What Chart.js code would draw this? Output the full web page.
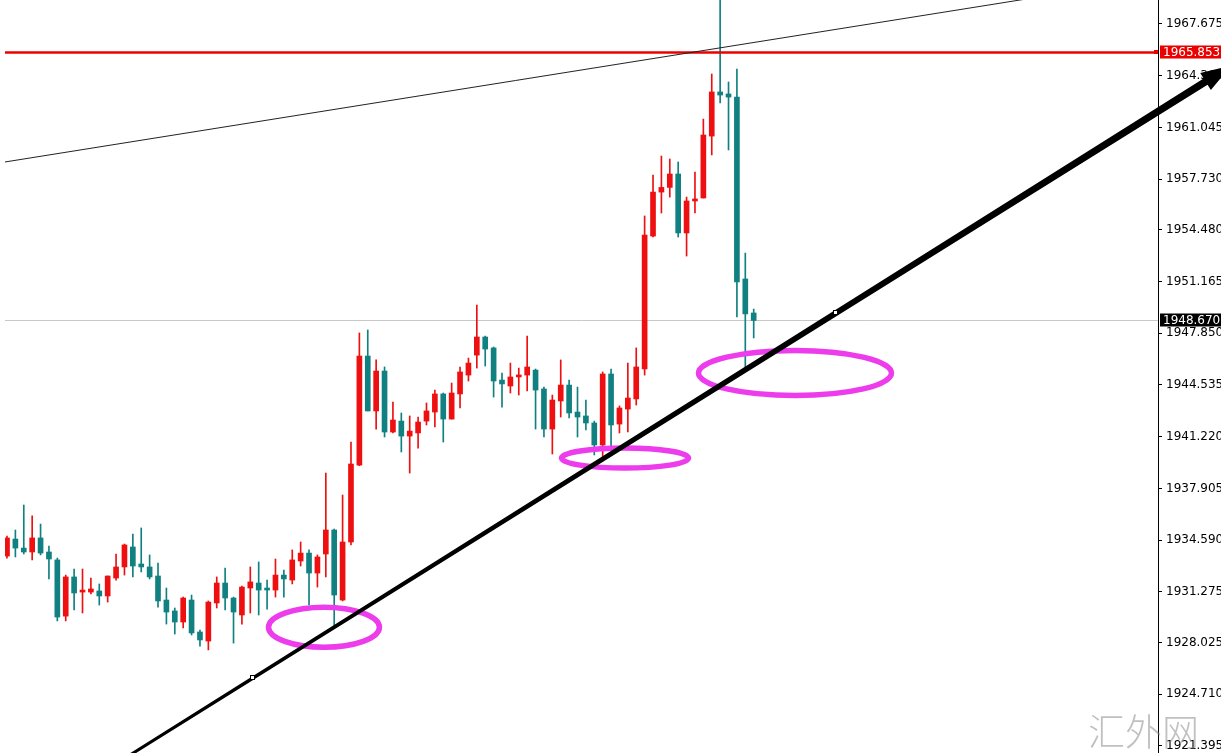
<!DOCTYPE html>
<html>
<head>
<meta charset="utf-8">
<script src="https://cdn.jsdelivr.net/npm/chart.js@4/dist/chart.umd.min.js"></script>
<style>
html,body{margin:0;padding:0;background:#fff;overflow:hidden;}
canvas{display:block;}
</style>
</head>
<body>
<canvas id="c" width="1221" height="753"></canvas>
<script>
// ---- Data ----
const opens = [1933.57,1934.66,1934.08,1933.83,1934.73,1933.83,1933.32,1929.72,1932.23,1931.26,
1931.26,1931.33,1931.01,1932.16,1932.87,1934.15,1933.06,1932.87,1932.29,1930.75,
1930.05,1929.34,1930.75,1928.70,1928.12,1930.56,1931.84,1930.88,1929.79,1931.52,
1931.84,1931.46,1931.39,1932.35,1932.03,1933.25,1933.76,1932.48,1933.70,1935.24,
1930.75,1934.47,1939.40,1946.39,1942.87,1945.43,1941.52,1942.22,1941.26,1941.46,
1942.22,1942.80,1943.96,1942.35,1943.96,1945.17,1946.45,1947.61,1946.91,1944.85,
1944.47,1945.05,1945.17,1945.49,1944.28,1941.71,1943.51,1944.53,1942.80,1942.55,
1942.10,1940.69,1945.24,1942.03,1942.99,1943.64,1945.56,1954.08,1956.90,1957.20,
1958.06,1954.28,1956.33,1956.52,1960.49,1963.32,1963.19,1962.99,1951.33,1949.15];
const highs = [1934.85,1935.24,1936.84,1936.14,1935.62,1934.21,1933.44,1932.35,1932.74,1932.74,
1932.16,1931.78,1932.29,1933.70,1934.34,1934.98,1935.37,1933.64,1933.12,1931.52,
1930.24,1930.94,1931.07,1928.83,1930.69,1932.23,1932.80,1930.94,1931.65,1932.87,
1933.19,1932.03,1933.38,1932.67,1933.96,1934.47,1933.96,1933.64,1938.89,1935.30,
1937.48,1940.88,1947.87,1948.06,1946.14,1945.69,1943.44,1942.74,1942.55,1942.48,
1943.38,1944.21,1944.02,1944.66,1945.69,1946.26,1949.66,1947.67,1946.97,1945.30,
1945.94,1945.62,1947.67,1945.56,1944.40,1943.89,1946.14,1944.85,1944.40,1943.57,
1942.22,1945.37,1945.56,1943.19,1945.94,1946.91,1955.37,1957.99,1959.21,1959.02,
1958.83,1956.58,1958.19,1961.58,1964.47,1970.50,1963.96,1964.79,1952.99,1949.40];
const lows = [1933.44,1933.51,1933.70,1933.32,1933.64,1932.10,1929.41,1929.41,1930.11,1929.92,
1931.14,1930.43,1930.62,1932.03,1932.35,1932.23,1932.55,1932.10,1930.30,1929.21,
1928.57,1928.96,1928.51,1927.80,1927.55,1930.24,1930.11,1927.99,1929.21,1929.92,
1929.79,1930.17,1930.94,1930.94,1931.78,1932.93,1930.43,1931.58,1932.23,1928.96,
1930.69,1934.28,1939.36,1942.87,1941.71,1941.20,1941.46,1940.24,1938.89,1940.49,
1941.97,1941.84,1940.88,1942.35,1943.06,1944.79,1945.62,1945.75,1943.76,1943.12,
1944.02,1943.89,1944.15,1941.71,1941.20,1940.11,1942.48,1942.42,1941.20,1941.65,
1940.05,1939.92,1940.56,1941.46,1941.52,1943.25,1945.17,1954.02,1955.56,1956.58,
1954.02,1952.80,1955.56,1956.52,1959.28,1962.61,1959.60,1948.89,1945.69,1947.55];
const closes = [1934.73,1934.08,1933.83,1934.73,1933.76,1933.38,1929.66,1932.23,1931.20,1931.33,
1931.46,1931.01,1932.29,1932.87,1934.28,1932.93,1932.87,1932.23,1930.69,1929.98,
1929.34,1930.88,1928.64,1928.19,1930.62,1931.84,1930.88,1929.98,1931.58,1931.91,
1931.39,1931.39,1932.35,1932.10,1933.32,1933.76,1932.48,1933.51,1935.24,1931.07,
1934.47,1939.47,1946.39,1942.87,1945.43,1941.52,1942.29,1941.26,1941.58,1942.16,
1942.87,1943.96,1942.35,1944.02,1945.37,1945.94,1947.61,1946.84,1944.79,1944.60,
1945.05,1945.17,1945.69,1944.21,1941.71,1943.57,1944.53,1942.74,1942.48,1942.10,
1940.69,1945.24,1941.97,1943.06,1943.70,1945.69,1954.15,1956.90,1957.20,1958.06,
1954.28,1956.33,1956.46,1960.56,1963.32,1963.12,1962.99,1951.14,1949.09,1948.67];

const yTickValues = [1967.675,1964.360,1961.045,1957.730,1954.480,1951.165,1947.850,
1944.535,1941.220,1937.905,1934.590,1931.275,1928.025,1924.710,1921.395];

const resistanceLevel = 1965.853;
const currentPrice = 1948.670;
const thinTrend = [[0, 1958.85], [120, 1969.15]];       // [barIndex, price]
const arrowTrend = [[29.32, 1925.75], [98.81, 1949.15]]; // [barIndex, price]
const ellipses = [ // [barIndex, price, radiusBars, radiusPrice]
  [37.78, 1929.00, 6.61, 1.28],
  [73.66, 1939.85, 7.57, 0.64],
  [93.92, 1945.30, 11.50, 1.44]
];
const watermark = '汇外网';

// ---- Styles ----
const UP = 'rgb(238,16,16)';
const DOWN = 'rgb(16,128,128)';
const FONT = "'DejaVu Sans', 'Liberation Sans', sans-serif";

const colors = opens.map((o,i)=> closes[i] >= o ? UP : DOWN);
const idx = opens.map((_,i)=>i);

const annot = {
  id: 'annot',
  beforeDatasetsDraw(chart){
    const {ctx, chartArea:a, scales:{y}} = chart;
    ctx.save();
    const py = Math.round(y.getPixelForValue(currentPrice)) + 0.5;
    ctx.strokeStyle = '#c8c8c8'; ctx.lineWidth = 1;
    ctx.beginPath(); ctx.moveTo(a.left, py); ctx.lineTo(a.right, py); ctx.stroke();
    ctx.restore();
  },
  afterDatasetsDraw(chart){
    const {ctx, chartArea:a, scales:{x, y}} = chart;
    const P = (p)=>({x: x.getPixelForValue(p[0]), y: y.getPixelForValue(p[1])});
    ctx.save();
    ctx.save();
    ctx.beginPath(); ctx.rect(a.left, a.top, a.right-a.left, a.bottom-a.top); ctx.clip();
    // red horizontal level
    const ry = y.getPixelForValue(resistanceLevel);
    ctx.strokeStyle = 'rgb(235,0,0)'; ctx.lineWidth = 2.5;
    ctx.beginPath(); ctx.moveTo(a.left, ry); ctx.lineTo(a.right, ry); ctx.stroke();
    // thin trend line, extended
    {
      const p1 = P(thinTrend[0]), p2 = P(thinTrend[1]);
      const k = (p2.y-p1.y)/(p2.x-p1.x);
      ctx.strokeStyle = '#222'; ctx.lineWidth = 1;
      ctx.beginPath();
      ctx.moveTo(a.left, p1.y + (a.left-p1.x)*k);
      ctx.lineTo(a.right, p1.y + (a.right-p1.x)*k);
      ctx.stroke();
    }
    // ellipses
    ctx.strokeStyle = 'rgb(236,60,236)'; ctx.lineWidth = 5.5;
    ellipses.forEach(e=>{
      const c = P([e[0], e[1]]);
      const rx = Math.abs(x.getPixelForValue(e[0]+e[2]) - c.x);
      const rY = Math.abs(y.getPixelForValue(e[1]+e[3]) - c.y);
      ctx.beginPath(); ctx.ellipse(c.x, c.y, rx, rY, 0, 0, Math.PI*2); ctx.stroke();
    });
    ctx.restore();

    // thick arrow trend line (runs over the axis)
    {
      const p1 = P(arrowTrend[0]), p2 = P(arrowTrend[1]);
      const L = Math.hypot(p2.x-p1.x, p2.y-p1.y);
      const u = {x:(p2.x-p1.x)/L, y:(p2.y-p1.y)/L};
      const n = {x:-u.y, y:u.x};
      const t0 = (a.bottom + 6 - p1.y)/u.y;
      const start = {x:p1.x+u.x*t0, y:p1.y+u.y*t0};
      const t1 = (chart.width + 10 - p1.x)/u.x;
      const tip = {x:p1.x+u.x*t1, y:p1.y+u.y*t1};
      const headLen = 30, headHalf = 10, w0 = 3, w1 = 7.5;
      const base = {x:tip.x-u.x*headLen, y:tip.y-u.y*headLen};
      ctx.fillStyle = '#000';
      ctx.beginPath();
      ctx.moveTo(start.x+n.x*w0/2, start.y+n.y*w0/2);
      ctx.lineTo(base.x+n.x*w1/2, base.y+n.y*w1/2);
      ctx.lineTo(base.x+n.x*headHalf, base.y+n.y*headHalf);
      ctx.lineTo(tip.x, tip.y);
      ctx.lineTo(base.x-n.x*headHalf, base.y-n.y*headHalf);
      ctx.lineTo(base.x-n.x*w1/2, base.y-n.y*w1/2);
      ctx.lineTo(start.x-n.x*w0/2, start.y-n.y*w0/2);
      ctx.closePath(); ctx.fill();
      ctx.fillStyle = '#fff'; ctx.strokeStyle = '#000'; ctx.lineWidth = 1;
      [p1,p2].forEach(p=>{
        ctx.fillRect(Math.round(p.x)-2, Math.round(p.y)-2, 4, 4);
        ctx.strokeRect(Math.round(p.x)-2.5, Math.round(p.y)-2.5, 4, 4);
      });
    }

    // price labels on the axis
    ctx.font = '12px ' + FONT;
    ctx.textBaseline = 'middle'; ctx.textAlign = 'left';
    {
      const yy = Math.round(ry);
      ctx.fillStyle = 'rgb(235,0,0)';
      ctx.fillRect(a.right+2, yy-6.5, 70, 13);
      ctx.fillRect(a.right-4, yy-2, 4, 4);
      ctx.fillStyle = '#fff';
      ctx.fillText(resistanceLevel.toFixed(3), a.right+5, yy+0.5);
    }
    {
      const yy = Math.round(y.getPixelForValue(currentPrice));
      ctx.fillStyle = '#000';
      ctx.fillRect(a.right+2, yy-6.5, 70, 13);
      ctx.fillStyle = '#fff';
      ctx.fillText(currentPrice.toFixed(3), a.right+5, yy+0.5);
    }
    // watermark
    ctx.font = "300 37px 'Noto Sans CJK SC', sans-serif";
    ctx.fillStyle = 'rgba(130,130,130,0.5)';
    ctx.textBaseline = 'alphabetic'; ctx.textAlign = 'left';
    ctx.fillText(watermark, 1088, 746);
    ctx.restore();
  }
};

new Chart(document.getElementById('c'), {
  type: 'bar',
  data: {
    datasets: [
      {
        label: 'wick',
        data: idx.map(i=>({x:i, y:[lows[i], highs[i]]})),
        backgroundColor: colors,
        barThickness: 1,
        grouped: false,
        order: 2
      },
      {
        label: 'body',
        data: idx.map(i=>({x:i, y:[opens[i], closes[i]]})),
        backgroundColor: colors,
        barThickness: 5,
        minBarLength: 2,
        grouped: false,
        order: 1
      }
    ]
  },
  options: {
    responsive: false,
    devicePixelRatio: 1,
    animation: false,
    layout: {padding: {left: 5, top: 0, right: 0, bottom: 0}},
    plugins: {legend: {display: false}, tooltip: {enabled: false}},
    scales: {
      x: {
        type: 'linear', display: false, offset: false,
        grid: {offset: false},
        min: -0.238, max: 137.19
      },
      y: {
        position: 'right',
        min: 1920.944, max: 1969.213,
        afterBuildTicks: (s)=>{ s.ticks = yTickValues.map(v=>({value:v})); },
        afterFit: (s)=>{ s.width = 63; s.paddingTop = 0; s.paddingBottom = 0; },
        ticks: {
          autoSkip: false,
          padding: 4,
          color: '#000',
          font: {family: FONT, size: 12},
          callback: (v)=> Number(v).toFixed(3)
        },
        grid: {display: true, drawOnChartArea: false, drawTicks: true, tickLength: 4, color: '#000'},
        border: {display: true, color: '#000', width: 1}
      }
    }
  },
  plugins: [annot]
});
</script>
</body>
</html>
